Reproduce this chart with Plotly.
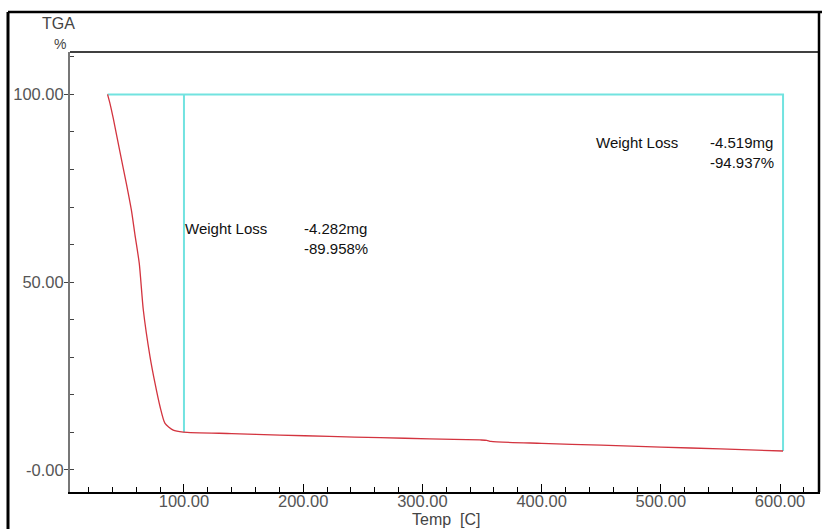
import plotly.graph_objects as go

# --- data ---
temp = [35.9, 38.0, 40.7, 46.3, 51.9, 56.1, 58.9, 62.5, 65.9, 71.5, 75.7, 79.9, 84.1, 91.0, 99.4,
        140.0, 180.5, 222.0, 264.4, 306.0, 348.3, 354.0, 357.5, 400.0, 450.0, 500.0, 550.0, 602.5]
weight = [100.0, 97.5, 93.6, 84.7, 75.9, 68.8, 62.6, 55.0, 42.6, 30.2, 23.1, 16.9, 12.4, 10.6, 10.1,
          9.7, 9.3, 8.95, 8.6, 8.3, 8.0, 7.9, 7.6, 7.1, 6.6, 6.1, 5.6, 5.06]

step_start = 35.9
step_mid = 100.0
step_end = 602.5
level_top = 100.0
level_mid = 10.04
level_end = 5.06

x_tickvals = [100, 200, 300, 400, 500, 600]
x_ticktext = ["100.00", "200.00", "300.00", "400.00", "500.00", "600.00"]
y_tickvals = [0, 50, 100]
y_ticktext = ["-0.00", "50.00", "100.00"]

ann1 = ["Weight Loss", "-4.282mg", "-89.958%"]
ann2 = ["Weight Loss", "-4.519mg", "-94.937%"]

W, H = 822, 529
L, R, T, B = 70, 820, 52, 492

def px(x):
    return (x - L) / (R - L)

def py(y):
    return (B - y) / (B - T)

FAM = "Liberation Sans, Arial, sans-serif"

fig = go.Figure()

cyan = "#72e3e0"
fig.add_trace(go.Scatter(
    x=[step_start, step_end, step_end, None, step_mid, step_mid],
    y=[level_top, level_top, level_end, None, level_top, level_mid],
    mode="lines", line=dict(color=cyan, width=2), hoverinfo="skip"))

fig.add_trace(go.Scatter(x=temp, y=weight, mode="lines",
                         line=dict(color="#d3343f", width=1.3, shape="spline", smoothing=0.6),
                         hoverinfo="skip"))

fnt = dict(family=FAM, size=15, color="#111")
anns = [
    dict(x=99.2, y=64.4, text=ann1[0]),
    dict(x=199.0, y=64.4, text=ann1[1]),
    dict(x=199.0, y=59.1, text=ann1[2]),
    dict(x=444.0, y=87.1, text=ann2[0]),
    dict(x=539.6, y=87.1, text=ann2[1]),
    dict(x=539.6, y=82.0, text=ann2[2]),
]
for a in anns:
    fig.add_annotation(x=a["x"], y=a["y"], text=a["text"], xref="x", yref="y",
                       xanchor="left", yanchor="middle", showarrow=False, font=fnt)

fig.add_annotation(x=px(58), y=py(24), xref="paper", yref="paper", text="TGA",
                   showarrow=False, xanchor="center", yanchor="middle",
                   font=dict(family=FAM, size=16, color="#444"))
fig.add_annotation(x=px(60), y=py(44), xref="paper", yref="paper", text="%",
                   showarrow=False, xanchor="center", yanchor="middle",
                   font=dict(family=FAM, size=14, color="#444"))
fig.add_annotation(x=px(446), y=py(519), xref="paper", yref="paper", text="Temp  [C]",
                   showarrow=False, xanchor="center", yanchor="middle",
                   font=dict(family=FAM, size=16, color="#444"))

# plot top line and outer frame
fig.add_shape(type="line", xref="paper", yref="paper", x0=0, x1=1, y0=1, y1=1,
              line=dict(color="black", width=1.5))
fig.add_shape(type="line", xref="paper", yref="paper", x0=px(8), x1=px(8), y0=py(12), y1=py(540),
              line=dict(color="black", width=3))
fig.add_shape(type="line", xref="paper", yref="paper", x0=px(8), x1=px(830), y0=py(12), y1=py(12),
              line=dict(color="black", width=2.5))
fig.add_shape(type="line", xref="paper", yref="paper", x0=px(819), x1=px(819), y0=py(12), y1=py(492),
              line=dict(color="black", width=2.5))

fig.update_xaxes(range=[4.4, 633.5], tickmode="array", tickvals=x_tickvals, ticktext=x_ticktext,
                 ticks="inside", ticklen=8, tickcolor="black", tickwidth=1,
                 minor=dict(dtick=20, tick0=0, ticks="inside", ticklen=5, tickcolor="black"),
                 showline=True, linecolor="black", linewidth=1.5, showgrid=False, zeroline=False,
                 ticklabelstandoff=-7,
                 tickfont=dict(family=FAM, size=16.5, color="#555"))
fig.update_yaxes(range=[-5.86, 111.3], tickmode="array", tickvals=y_tickvals, ticktext=y_ticktext,
                 ticks="outside", ticklen=4, tickcolor="#444", tickwidth=1.2,
                 minor=dict(dtick=10, tick0=0, ticks="inside", ticklen=4, tickcolor="#444"),
                 showline=True, linecolor="#777", linewidth=2, showgrid=False, zeroline=False,
                 ticklabelstandoff=-3,
                 tickfont=dict(family=FAM, size=16.5, color="#555"))

fig.update_layout(width=W, height=H, margin=dict(l=L, r=W - R, t=T, b=H - B),
                  plot_bgcolor="white", paper_bgcolor="white", showlegend=False)

fig.write_html("out.html", config={"displayModeBar": False},
               post_script="document.body.style.margin='0px';")
